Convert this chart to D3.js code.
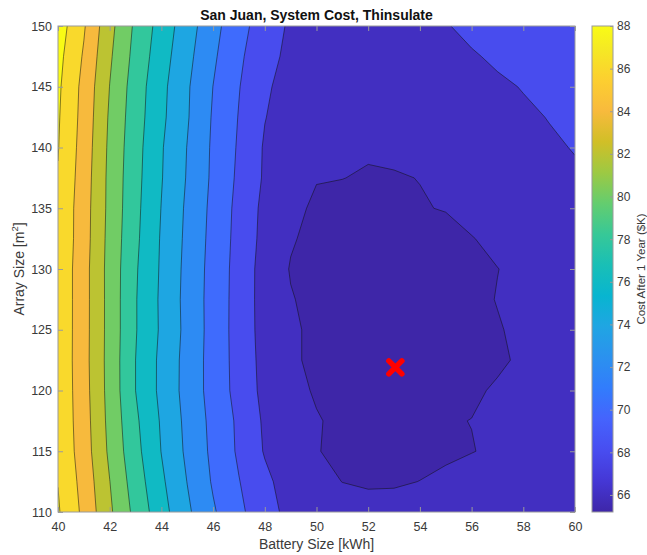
<!DOCTYPE html>
<html>
<head>
<meta charset="utf-8">
<script src="https://cdn.jsdelivr.net/npm/d3@7"></script>
<style>
  body { margin: 0; background: #fff; }
  svg { display: block; font-family: "Liberation Sans", Arial, Helvetica, sans-serif; }
</style>
</head>
<body>
<svg id="chart" width="647" height="555"></svg>
<script>
// grid: columns = battery size, rows = array size (bottom row first)
const batterySize = [40, 41, 42, 43, 44, 45, 46, 47, 48, 49, 50, 51, 52, 53, 54, 55, 56, 57, 58, 59, 60];
const arraySize = [110, 112.5, 115, 117.5, 120, 122.5, 125, 127.5, 130, 132.5, 135, 137.5, 140, 142.5, 145, 147.5, 150];

const cost = [
  [88.2, 85.54, 82.33, 79.43, 76.76, 74.35, 72.23, 70.41, 68.79, 67.4, 66.95, 66.75, 66.6, 66.65, 66.75, 66.95, 67.2, 67.4, 67.6, 67.8, 67.95],
  [87.95, 85.28, 82.03, 79.0, 76.35, 73.96, 71.79, 70.07, 68.44, 67.1, 66.5, 65.98, 65.8, 65.82, 66.02, 66.35, 66.7, 67.0, 67.3, 67.55, 67.8],
  [87.7, 84.99, 81.63, 78.6, 75.95, 73.62, 71.56, 69.71, 67.85, 66.75, 66.05, 65.75, 65.55, 65.5, 65.55, 65.7, 65.95, 66.25, 66.6, 66.9, 67.15],
  [87.6, 84.88, 81.44, 78.34, 75.79, 73.48, 71.45, 69.64, 67.7, 66.7, 66.1, 65.7, 65.45, 65.35, 65.45, 65.9, 66.02, 66.45, 66.8, 67.05, 67.3],
  [87.6, 84.77, 81.31, 78.0, 75.52, 73.29, 71.24, 69.32, 67.45, 66.45, 65.85, 65.5, 65.3, 65.25, 65.25, 65.45, 65.8, 66.15, 66.5, 66.8, 67.05],
  [87.6, 84.7, 81.28, 78.0, 75.53, 73.32, 71.22, 69.26, 67.35, 66.3, 65.6, 65.35, 65.25, 65.2, 65.25, 65.35, 65.55, 65.8, 66.2, 66.55, 66.8],
  [87.6, 84.73, 81.31, 78.12, 75.71, 73.44, 71.24, 69.2, 67.25, 66.3, 65.6, 65.35, 65.25, 65.2, 65.25, 65.35, 65.55, 65.9, 66.3, 66.6, 66.85],
  [87.6, 84.74, 81.31, 78.12, 75.67, 73.38, 71.24, 69.22, 67.2, 66.1, 65.55, 65.35, 65.25, 65.25, 65.3, 65.4, 65.65, 66.05, 66.35, 66.65, 66.9],
  [87.6, 84.74, 81.3, 78.21, 75.75, 73.45, 71.28, 69.25, 67.2, 65.9, 65.5, 65.35, 65.3, 65.3, 65.35, 65.45, 65.65, 65.98, 66.3, 66.6, 66.85],
  [87.7, 84.87, 81.37, 78.39, 75.82, 73.57, 71.38, 69.35, 67.4, 66.15, 65.55, 65.4, 65.35, 65.35, 65.45, 65.6, 65.95, 66.3, 66.6, 66.9, 67.15],
  [87.7, 84.9, 81.47, 78.51, 75.95, 73.67, 71.49, 69.43, 67.5, 66.4, 65.75, 65.6, 65.55, 65.6, 65.93, 66.06, 66.4, 66.7, 67.0, 67.25, 67.5],
  [87.9, 85.03, 81.49, 78.62, 76.1, 73.86, 71.64, 69.63, 67.76, 66.5, 66.07, 66.02, 65.88, 65.93, 66.02, 66.3, 66.6, 66.9, 67.2, 67.5, 67.8],
  [88.08, 85.17, 81.59, 78.73, 76.17, 73.95, 71.7, 69.77, 67.8, 67.0, 66.5, 66.2, 66.15, 66.2, 66.35, 66.55, 66.85, 67.15, 67.45, 67.8, 68.07],
  [88.2, 85.32, 81.74, 78.89, 76.42, 74.16, 71.81, 69.91, 68.06, 67.1, 66.7, 66.4, 66.3, 66.35, 66.5, 66.75, 67.05, 67.4, 67.75, 68.05, 68.35],
  [88.34, 85.43, 81.97, 79.03, 76.54, 74.23, 71.98, 70.08, 68.27, 67.3, 66.9, 66.6, 66.5, 66.55, 66.75, 67.05, 67.4, 67.75, 68.07, 68.4, 68.65],
  [88.6, 85.79, 82.28, 79.35, 76.87, 74.55, 72.31, 70.33, 68.71, 67.5, 67.1, 66.8, 66.7, 66.8, 67.1, 67.5, 67.85, 68.25, 68.6, 68.9, 69.1],
  [89.0, 86.2, 82.6, 79.63, 77.19, 74.89, 72.65, 70.65, 69.07, 67.7, 67.3, 67.0, 66.9, 67.0, 67.3, 67.9, 68.4, 68.8, 69.1, 69.3, 69.5]
];

const levels = [66, 68, 70, 72, 74, 76, 78, 80, 82, 84, 86, 88];
const xTicks = [40, 42, 44, 46, 48, 50, 52, 54, 56, 58, 60];
const yTicks = [110, 115, 120, 125, 130, 135, 140, 145, 150];
const colorTicks = [66, 68, 70, 72, 74, 76, 78, 80, 82, 84, 86, 88];
const colorRange = [65.2, 88];
const optimum = { battery: 53.05, array: 121.9 };

// parula, every 4th entry of the 64 colour table
const parula = ['#3e26a8', '#4537d5', '#484df0', '#4563fd', '#327cfc', '#2b91ef', '#20a5e3', '#08b5d0',
  '#19bfb6', '#37c897', '#64cd6f', '#9dc943', '#d1bf27', '#f8ba3d', '#fccf30', '#f5e924', '#f9fb15'];
const parulaPos = parula.map((c, i) => i < parula.length - 1 ? i * 4 / 63 : 1);
const parulaScale = d3.scaleLinear().domain(parulaPos).range(parula).interpolate(d3.interpolateRgb).clamp(true);
const color = v => parulaScale((v - colorRange[0]) / (colorRange[1] - colorRange[0]));

const plot = { left: 58, right: 575, top: 26, bottom: 512 };
const textColor = '#3a3a3a';
const axisColor = '#9a9a9a';

const svg = d3.select('#chart');

const x = d3.scaleLinear().domain([40, 60]).range([plot.left, plot.right]);
const y = d3.scaleLinear().domain([110, 150]).range([plot.bottom, plot.top]);

const nx = batterySize.length, ny = arraySize.length;
const colIdx = d3.scaleLinear().domain([0, nx - 1]).range([batterySize[0], batterySize[nx - 1]]);
const rowIdx = d3.scaleLinear().domain([0, ny - 1]).range([arraySize[0], arraySize[ny - 1]]);

const bands = d3.contours().size([nx, ny]).thresholds(levels)(cost.flat());

// d3.contours puts grid value i at i + 0.5
const gridToPlot = d3.geoTransform({
  point: function (gx, gy) {
    this.stream.point(x(colIdx(gx - 0.5)), y(rowIdx(gy - 0.5)));
  }
});
const path = d3.geoPath(gridToPlot);

svg.append('defs').append('clipPath').attr('id', 'clip')
  .append('rect')
  .attr('x', plot.left).attr('y', plot.top)
  .attr('width', plot.right - plot.left).attr('height', plot.bottom - plot.top);

const gMap = svg.append('g').attr('clip-path', 'url(#clip)');

gMap.append('rect')
  .attr('x', plot.left).attr('y', plot.top)
  .attr('width', plot.right - plot.left).attr('height', plot.bottom - plot.top)
  .attr('fill', color(colorRange[0]));

gMap.selectAll('.band').data(bands).enter().append('path')
  .attr('class', 'band')
  .attr('d', path)
  .attr('fill', d => color(d.value));

gMap.selectAll('.isoline').data(bands).enter().append('path')
  .attr('class', 'isoline')
  .attr('d', path)
  .attr('fill', 'none')
  .attr('stroke', '#111')
  .attr('stroke-opacity', 0.75)
  .attr('stroke-width', 0.7)
  .attr('stroke-linejoin', 'round');

// optimum marker
svg.append('path')
  .attr('transform', 'translate(' + x(optimum.battery) + ',' + y(optimum.array) + ')')
  .attr('d', 'M-6.5,-6.5L6.5,6.5M-6.5,6.5L6.5,-6.5')
  .attr('stroke', '#ff0000')
  .attr('stroke-width', 5.5)
  .attr('stroke-linecap', 'round');

function styleAxis(g, size) {
  g.select('.domain').remove();
  g.selectAll('.tick line').attr('stroke', axisColor);
  g.selectAll('.tick text').attr('fill', textColor).attr('font-size', size)
    .attr('font-family', '"Liberation Sans", Arial, sans-serif');
}

svg.append('g').attr('transform', 'translate(0,' + plot.bottom + ')')
  .call(d3.axisBottom(x).tickValues(xTicks).tickSizeInner(-5).tickSizeOuter(0).tickPadding(10))
  .call(g => styleAxis(g, '12.5px'));
svg.append('g').attr('transform', 'translate(0,' + plot.top + ')')
  .call(d3.axisTop(x).tickValues(xTicks).tickSizeInner(-5).tickSizeOuter(0).tickFormat(''))
  .call(g => styleAxis(g, '12.5px'));
svg.append('g').attr('transform', 'translate(' + plot.left + ',0)')
  .call(d3.axisLeft(y).tickValues(yTicks).tickSizeInner(-5).tickSizeOuter(0).tickPadding(6))
  .call(g => styleAxis(g, '12.5px'));
svg.append('g').attr('transform', 'translate(' + plot.right + ',0)')
  .call(d3.axisRight(y).tickValues(yTicks).tickSizeInner(-5).tickSizeOuter(0).tickFormat(''))
  .call(g => styleAxis(g, '12.5px'));

svg.append('rect')
  .attr('x', plot.left).attr('y', plot.top)
  .attr('width', plot.right - plot.left).attr('height', plot.bottom - plot.top)
  .attr('fill', 'none').attr('stroke', axisColor).attr('stroke-width', 1);

// colorbar
const cb = { left: 592, width: 21 };
const cScale = d3.scaleLinear().domain(colorRange).range([plot.bottom, plot.top]);
const grad = svg.select('defs').append('linearGradient').attr('id', 'parula')
  .attr('x1', 0).attr('y1', 1).attr('x2', 0).attr('y2', 0);
grad.selectAll('stop').data(parula).enter().append('stop')
  .attr('offset', (d, i) => parulaPos[i])
  .attr('stop-color', d => d);

svg.append('rect')
  .attr('x', cb.left).attr('y', plot.top)
  .attr('width', cb.width).attr('height', plot.bottom - plot.top)
  .attr('fill', 'url(#parula)')
  .attr('stroke', axisColor).attr('stroke-width', 1);

svg.append('g').attr('transform', 'translate(' + (cb.left + cb.width) + ',0)')
  .call(d3.axisRight(cScale).tickValues(colorTicks).tickSizeInner(-3).tickSizeOuter(0).tickPadding(4))
  .call(g => styleAxis(g, '12px'));

// texts
svg.append('text')
  .attr('x', (plot.left + plot.right) / 2).attr('y', 20)
  .attr('text-anchor', 'middle')
  .attr('font-size', '14px').attr('font-weight', 'bold').attr('fill', '#111')
  .text('San Juan, System Cost, Thinsulate');

svg.append('text')
  .attr('x', (plot.left + plot.right) / 2).attr('y', 549)
  .attr('text-anchor', 'middle')
  .attr('font-size', '14px').attr('fill', textColor)
  .text('Battery Size [kWh]');

const yLabel = svg.append('text')
  .attr('transform', 'translate(24,' + (plot.top + plot.bottom) / 2 + ') rotate(-90)')
  .attr('text-anchor', 'middle')
  .attr('font-size', '14px').attr('fill', textColor);
yLabel.append('tspan').text('Array Size [m');
yLabel.append('tspan').attr('font-size', '9.5px').attr('dy', '-6').text('2');
yLabel.append('tspan').attr('dy', '6').text(']');

svg.append('text')
  .attr('transform', 'translate(645,' + (plot.top + plot.bottom) / 2 + ') rotate(-90)')
  .attr('text-anchor', 'middle')
  .attr('font-size', '11.5px').attr('fill', textColor)
  .text('Cost After 1 Year ($K)');
</script>
</body>
</html>
